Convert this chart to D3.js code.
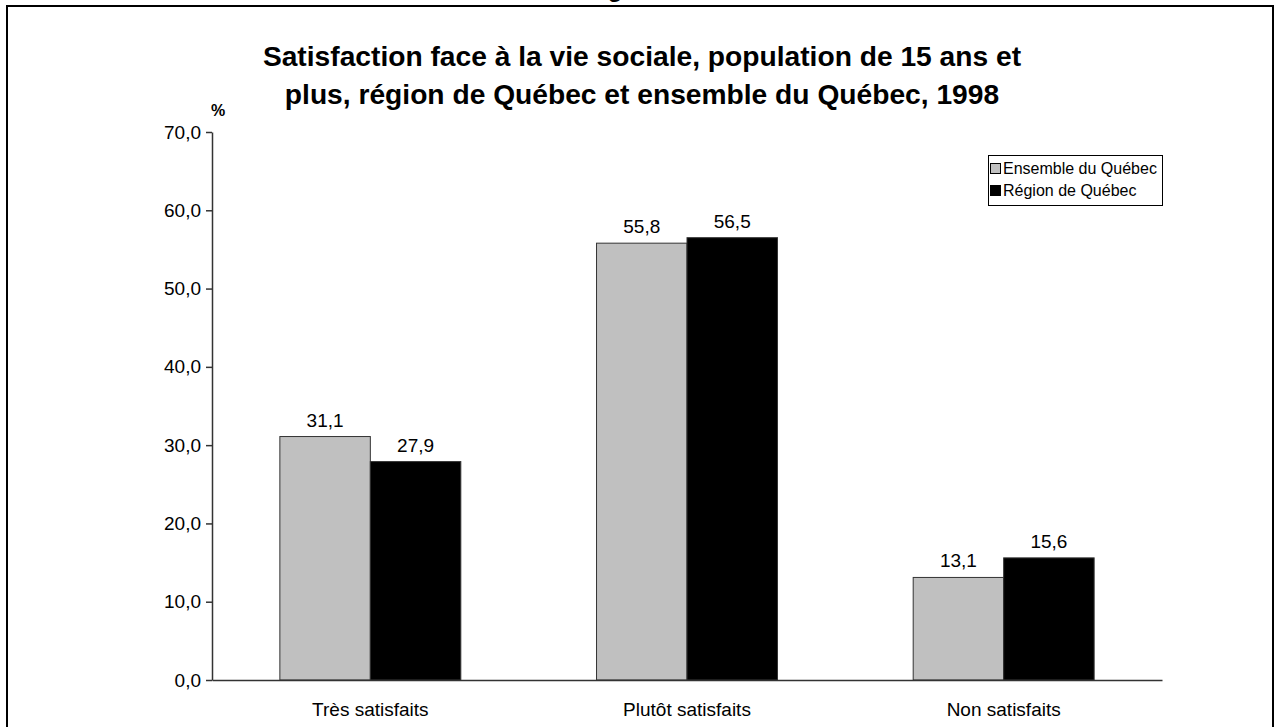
<!DOCTYPE html>
<html><head><meta charset="utf-8">
<script src="https://cdn.jsdelivr.net/npm/d3@7"></script>
<style>body{margin:0;background:#fff}svg{display:block}text{font-family:"Liberation Sans",Arial,sans-serif}</style>
</head><body>
<svg id="c" width="1276" height="727"></svg>
<script>
const categories = ["Très satisfaits", "Plutôt satisfaits", "Non satisfaits"];
const seriesNames = ["Ensemble du Québec", "Région de Québec"];
const ensembleQuebec = [31.1, 55.8, 13.1];
const regionQuebec = [27.9, 56.5, 15.6];
const yTicks = [0, 10, 20, 30, 40, 50, 60, 70];
const titleLines = ["Satisfaction face à la vie sociale, population de 15 ans et", "plus, région de Québec et ensemble du Québec, 1998"];
const colors = ["#c0c0c0", "#000000"];

(function () {
const svg = d3.select("#c");
const fmt = v => d3.format(".1f")(v).replace(".", ",");
const FONT = '"Liberation Sans",Arial,sans-serif';

// outer frame
svg.append("rect").attr("x", 7).attr("y", 6).attr("width", 1266).attr("height", 740)
  .attr("fill", "none").attr("stroke", "#000").attr("stroke-width", 2);
// cut-off heading descender (as in the reference)
svg.append("text").attr("x", 615).attr("y", -3).attr("text-anchor", "middle")
  .attr("font-weight", "bold").attr("font-size", 24).text("g");

const pLeft = 212, pRight = 1162, pTop = 132, pBottom = 680;
const x0 = d3.scaleBand().domain(categories).range([pLeft, pRight]).paddingInner(0).paddingOuter(0);
const barW = x0.bandwidth() / 3.5;
const y = d3.scaleLinear().domain([0, 70]).range([pBottom, pTop]);

// title
svg.append("g").selectAll("text").data(titleLines).join("text")
  .attr("x", 642).attr("y", (d, i) => 66 + i * 38).attr("text-anchor", "middle")
  .attr("font-weight", "bold").attr("font-size", 28.2).text(d => d);

// y axis
const yAxis = svg.append("g").attr("transform", `translate(${pLeft},0)`)
  .call(d3.axisLeft(y).tickValues(yTicks).tickFormat(fmt).tickSize(6).tickSizeOuter(0).tickPadding(5));
yAxis.select(".domain").attr("stroke", "#333").attr("stroke-width", 1.5);
yAxis.selectAll(".tick line").attr("stroke", "#333").attr("stroke-width", 1.5);
yAxis.selectAll(".tick text").attr("font-size", 19).attr("fill", "#000").attr("font-family", FONT);

svg.append("text").attr("x", 218).attr("y", 116).attr("text-anchor", "middle")
  .attr("font-weight", "bold").attr("font-size", 16).text("%");

// bars
const series = [ensembleQuebec, regionQuebec];
series.forEach((vals, s) => {
  const g = svg.append("g");
  g.selectAll("rect").data(vals).join("rect")
    .attr("x", (d, i) => x0(categories[i]) + x0.bandwidth() / 2 - barW + s * barW)
    .attr("y", d => y(d)).attr("width", barW).attr("height", d => y(0) - y(d))
    .attr("fill", colors[s]).attr("stroke", "#333").attr("stroke-width", 1);
  g.selectAll("text").data(vals).join("text")
    .attr("x", (d, i) => x0(categories[i]) + x0.bandwidth() / 2 - barW + s * barW + barW / 2)
    .attr("y", d => y(d) - 10).attr("text-anchor", "middle").attr("font-size", 19).text(fmt);
});

// x axis
const xAxis = svg.append("g").attr("transform", `translate(0,${pBottom})`)
  .call(d3.axisBottom(x0).tickSize(0).tickPadding(23));
xAxis.select(".domain").attr("stroke", "#333").attr("stroke-width", 1.5);
xAxis.selectAll(".tick text").attr("font-size", 19).attr("fill", "#000").attr("font-family", FONT);

// legend
const lg = svg.append("g");
lg.append("rect").attr("x", 988.5).attr("y", 155.5).attr("width", 174).attr("height", 50)
  .attr("fill", "#fff").attr("stroke", "#000").attr("stroke-width", 1);
seriesNames.forEach((n, i) => {
  lg.append("rect").attr("x", 990.5).attr("y", 163.5 + i * 22).attr("width", 10).attr("height", 10)
    .attr("fill", colors[i]).attr("stroke", "#000").attr("stroke-width", 1);
  lg.append("text").attr("x", 1003).attr("y", 174 + i * 22).attr("font-size", 16).text(n);
});
})();
</script>
</body></html>
